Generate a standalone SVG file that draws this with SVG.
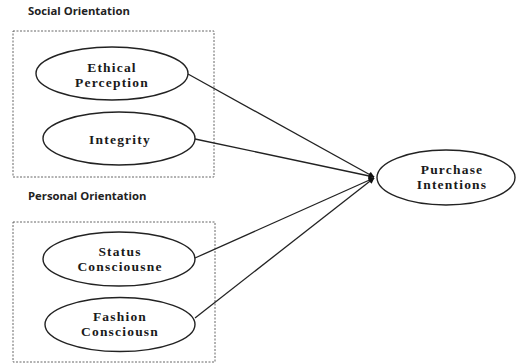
<svg xmlns="http://www.w3.org/2000/svg" width="519" height="364" viewBox="0 0 519 364">
<defs>
<style>
.grp{font-family:"Open Sans","Liberation Sans",sans-serif;font-weight:bold;font-size:11.3px;fill:#222}
.box{fill:none;stroke:#555;stroke-width:0.9;stroke-dasharray:2 1.5}
.node ellipse{fill:#fff;stroke:#222;stroke-width:1.4}
.node text{font-family:"Liberation Serif","Times New Roman",serif;font-weight:bold;font-size:13.5px;letter-spacing:1.2px;fill:#1a1a1a;text-anchor:middle}
.conn line{stroke:#222;stroke-width:1.3;marker-end:url(#ah)}
</style>
<marker id="ah" viewBox="0 0 10 10" refX="9" refY="5" markerWidth="6" markerHeight="6" orient="auto" markerUnits="userSpaceOnUse">
<path d="M0,0 L10,5 L0,10 z" fill="#111"/>
</marker>
</defs>
<rect width="519" height="364" fill="#fff"/>
<text class="grp" x="28" y="15">Social Orientation</text>
<rect class="box" x="13" y="31" width="201" height="146"/>
<text class="grp" x="28" y="200">Personal Orientation</text>
<rect class="box" x="13" y="222" width="202" height="140"/>
<g class="conn">
<line x1="188" y1="74" x2="374" y2="177"/>
<line x1="195" y1="139" x2="374" y2="177"/>
<line x1="195" y1="258" x2="374" y2="178"/>
<line x1="195" y1="318" x2="374" y2="178"/>
</g>
<g class="node" id="ethical">
<ellipse cx="112" cy="73.5" rx="76" ry="26.5"/>
<text x="112" y="72">Ethical</text>
<text x="112" y="87">Perception</text>
</g>
<g class="node" id="integrity">
<ellipse cx="119" cy="138.5" rx="76" ry="26.5"/>
<text x="120" y="144">Integrity</text>
</g>
<g class="node" id="status">
<ellipse cx="119" cy="259" rx="76" ry="27"/>
<text x="120" y="256">Status</text>
<text x="120" y="271">Consciousne</text>
</g>
<g class="node" id="fashion">
<ellipse cx="120" cy="324.5" rx="75" ry="27"/>
<text x="120" y="321">Fashion</text>
<text x="120" y="336">Consciousn</text>
</g>
<g class="node" id="purchase">
<ellipse cx="446" cy="177.5" rx="69" ry="27.5"/>
<text x="452" y="174">Purchase</text>
<text x="452" y="189">Intentions</text>
</g>
</svg>
